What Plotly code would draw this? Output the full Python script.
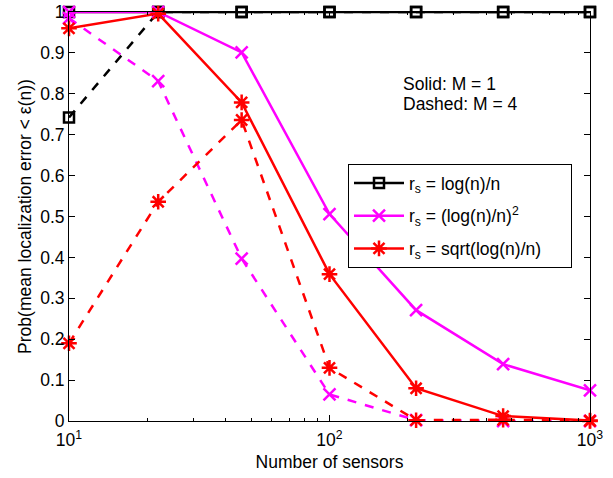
import plotly.graph_objects as go

n_sensors = [10, 22, 46, 100, 215, 464, 1000]

black_m1 = [1, 1, 1, 1, 1, 1, 1]
black_m4 = [0.742, 1, 1, 1, 1, 1, 1]
magenta_m1 = [1, 1, 0.901, 0.506, 0.271, 0.139, 0.075]
magenta_m4 = [0.985, 0.831, 0.397, 0.065, 0.002, 0.0, 0.0]
red_m1 = [0.960, 0.996, 0.779, 0.359, 0.080, 0.012, 0.001]
red_m4 = [0.190, 0.536, 0.736, 0.130, 0.002, 0.003, 0.0]

legend_labels = ["r<sub>s</sub> = log(n)/n",
                 "r<sub>s</sub> = (log(n)/n)<sup>2</sup>",
                 "r<sub>s</sub> = sqrt(log(n)/n)"]
x_tick_vals = [10, 100, 1000]
x_tick_text = ["10<sup>1</sup>", "10<sup>2</sup>", "10<sup>3</sup>"]
y_tick_vals = [0, 0.1, 0.2, 0.3, 0.4, 0.5, 0.6, 0.7, 0.8, 0.9, 1]
y_tick_text = ["0", "0.1", "0.2", "0.3", "0.4", "0.5", "0.6", "0.7", "0.8", "0.9", "1"]

FS = 17.5
PAD = "\u00a0" * 5  # right padding inside the legend box
fig = go.Figure()

series = [
    (black_m1, black_m4, "black", "square-open", 10, legend_labels[0]),
    (magenta_m1, magenta_m4, "#ff00ff", "x-thin-open", 12, legend_labels[1]),
    (red_m1, red_m4, "#ff0000", "asterisk-open", 13, legend_labels[2] + PAD),
]
for i, (s1, s4, col, sym, sz, lab) in enumerate(series):
    fig.add_trace(go.Scatter(
        x=n_sensors, y=s4, mode="lines+markers", showlegend=False,
        line=dict(color=col, width=2.5, dash="dash"),
        marker=dict(symbol=sym, size=sz, color=col, line=dict(color=col, width=2.5)),
        cliponaxis=False))
    fig.add_trace(go.Scatter(
        x=n_sensors, y=s1, mode="lines+markers", name=lab, legendgroup=f"g{i}",
        line=dict(color=col, width=2.5),
        marker=dict(symbol=sym, size=sz, color=col, line=dict(color=col, width=2.5)),
        cliponaxis=False))

fig.add_annotation(x=0.6366, y=(421 - 84) / 409, xref="paper", yref="paper", xanchor="left",
                   yanchor="middle", showarrow=False, text="Solid: M = 1",
                   font=dict(size=FS, color="black"))
fig.add_annotation(x=0.6366, y=(421 - 104) / 409, xref="paper", yref="paper", xanchor="left",
                   yanchor="middle", showarrow=False, text="Dashed: M = 4",
                   font=dict(size=FS, color="black"))

axis_common = dict(showline=True, linecolor="black", linewidth=1, mirror="ticks",
                   ticks="inside", ticklen=6, tickcolor="black", showgrid=False,
                   zeroline=False, tickfont=dict(size=FS, color="black"),
                   title_font=dict(size=FS, color="black"), automargin=False)

minor_vals = [v * m for v in (10, 100) for m in range(2, 10)]
fig.update_xaxes(type="log", range=[1, 3], tickmode="array", tickvals=x_tick_vals,
                 ticktext=x_tick_text, title_text="Number of sensors", title_standoff=6,
                 ticklabelstandoff=3,
                 minor=dict(tickmode="array", tickvals=minor_vals, ticks="inside",
                            ticklen=3, tickcolor="black"),
                 **axis_common)
fig.update_yaxes(range=[0, 1], tickmode="array", tickvals=y_tick_vals, ticktext=y_tick_text,
                 title_text="Prob(mean localization error < \u03b5(n))", title_standoff=4,
                 **axis_common)

fig.update_layout(
    width=613, height=478,
    margin=dict(l=69, r=23, t=12, b=57),
    paper_bgcolor="white", plot_bgcolor="white",
    font=dict(family="Liberation Sans, Arial, sans-serif", color="black"),
    legend=dict(x=(348 - 69) / 521, y=(421 - 164) / 409, xanchor="left", yanchor="top",
                bgcolor="white", bordercolor="black", borderwidth=1,
                font=dict(size=FS, color="black"), tracegroupgap=7,
                itemwidth=50),
)

fig.write_html("out.html", config={"displayModeBar": False},
               post_script="document.body.style.margin='0';document.body.style.padding='0';")
